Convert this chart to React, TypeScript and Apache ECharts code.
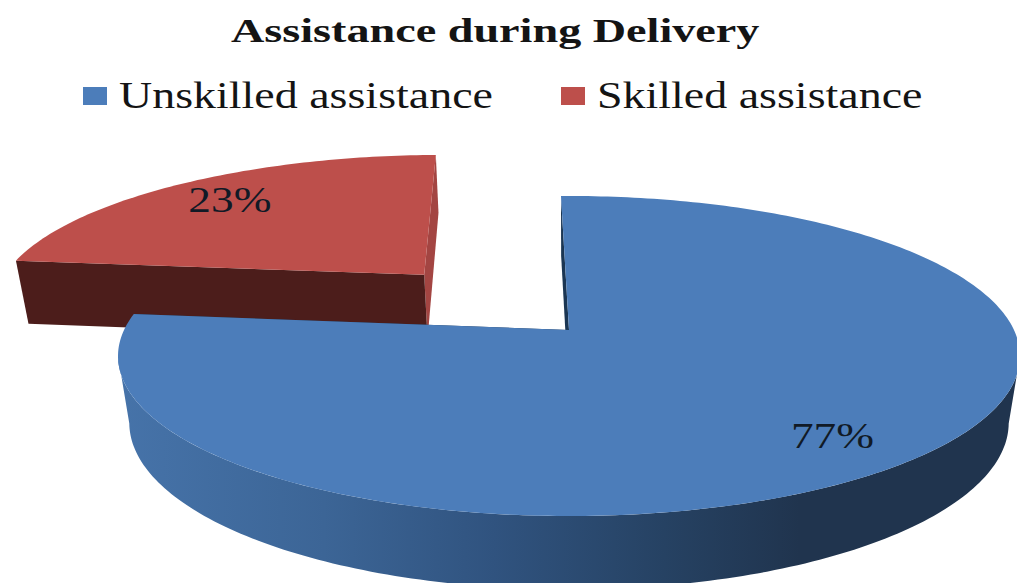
import React, { useEffect, useRef } from "react";
import * as echarts from "echarts";

const titleText = "Assistance during Delivery";
const categories = ["Unskilled assistance", "Skilled assistance"];
const shares = [77, 23];
const explode = [0, 0.51];

const topColors = ["#4c7dba", "#bd4f4b"];
const startWallColors = ["#1b3653", "#4c1d1b"];
const endWallColors = ["#1b3653", "#a34542"];
const labelNudgeX = [-3, 2];
const labelNudgeY = [5, 0];
const SERIF = '"Liberation Serif", "Times New Roman", serif';

// Perspective of the pie: a unit disc is projected with a depth term, so near parts look larger.
const CX = 569;
const CY = 330;
const RX = 445;
const RY = 155.8;
const TILT = 0.1625;
const THICK = 68;
const THICK_W = 0.025;
const FIRST_ANGLE = -1.2;
const LABEL_RADIUS = 0.8;

const rad = (d: number) => (d * Math.PI) / 180;

function project(u: number, v: number, z: number): number[] {
  const w = 1 + TILT * v + THICK_W * z;
  return [CX + (RX * u) / w, CY - (RY * v - THICK * z) / w];
}

function sliceGeometry(index: number) {
  const total = shares.reduce((a, b) => a + b, 0);
  const before = shares.slice(0, index).reduce((a, b) => a + b, 0);
  const start = FIRST_ANGLE + (before / total) * 360;
  const end = start + (shares[index] / total) * 360;
  const mid = (start + end) / 2;
  const du = explode[index] * Math.sin(rad(mid));
  const dv = explode[index] * Math.cos(rad(mid));
  const at = (deg: number, r: number, z: number) =>
    project(r * Math.sin(rad(deg)) + du, r * Math.cos(rad(deg)) + dv, z);
  return { start, end, mid, at };
}

function arcPoints(at: (d: number, r: number, z: number) => number[], a: number, b: number, z: number) {
  const out: number[][] = [];
  const steps = Math.max(2, Math.ceil(Math.abs(b - a)));
  for (let i = 0; i <= steps; i++) out.push(at(a + ((b - a) * i) / steps, 1, z));
  return out;
}

const wallFill = new echarts.graphic.LinearGradient(
  120,
  0,
  800,
  0,
  [
    { offset: 0, color: "#4673a9" },
    { offset: 0.3, color: "#3c6596" },
    { offset: 0.55, color: "#30537f" },
    { offset: 0.8, color: "#264263" },
    { offset: 1, color: "#20344e" },
  ],
  true
);

function renderSlice(index: number) {
  return (_params: unknown, api: { value: (dim: number) => number }) => {
    const value = api.value(0);
    const { start, end, mid, at } = sliceGeometry(index);
    const children: object[] = [];
    const radial = (deg: number, fill: string) => ({
      type: "polygon",
      shape: { points: [at(deg, 0, 0), at(deg, 1, 0), at(deg, 1, 1), at(deg, 0, 1)] },
      style: { fill },
    });
    children.push(radial(end, endWallColors[index]));
    children.push(radial(start, startWallColors[index]));

    // The curved outer wall is only visible between the two silhouette tangents.
    const tangent = (Math.acos(-TILT) * 180) / Math.PI;
    const a = Math.max(start, tangent);
    const b = Math.min(end, 360 - tangent);
    if (b > a) {
      children.push({
        type: "polygon",
        shape: { points: [...arcPoints(at, a, b, 0), ...arcPoints(at, b, a, 1)] },
        style: { fill: wallFill },
      });
    }

    children.push({
      type: "polygon",
      shape: { points: [at(start, 0, 0), ...arcPoints(at, start, end, 0)] },
      style: { fill: topColors[index] },
    });

    const [lx, ly] = at(mid, LABEL_RADIUS, 0);
    children.push({
      type: "text",
      x: lx + labelNudgeX[index],
      y: ly + labelNudgeY[index],
      scaleX: 1.26,
      scaleY: 1,
      style: {
        text: `${value}%`,
        x: 0,
        y: 0,
        align: "center",
        verticalAlign: "middle",
        fill: "#111a26",
        font: `36px ${SERIF}`,
      },
    });
    return { type: "group", children };
  };
}

function stretchedText(text: string, x: number, y: number, scaleX: number, font: string) {
  return {
    type: "text",
    x,
    y,
    scaleX,
    scaleY: 1,
    style: { text, x: 0, y: 0, align: "left", verticalAlign: "middle", fill: "#141414", font },
  };
}

export default function App() {
  const ref = useRef<HTMLDivElement>(null);

  useEffect(() => {
    if (!ref.current) return;
    const chart = echarts.init(ref.current, undefined, { renderer: "svg" });
    chart.setOption({
      animation: false,
      backgroundColor: "#ffffff",
      tooltip: { show: false },
      graphic: [
        stretchedText(titleText, 231, 31, 1.4, `bold 33px ${SERIF}`),
        { type: "rect", shape: { x: 83, y: 87, width: 24, height: 18 }, style: { fill: topColors[0] } },
        stretchedText(categories[0], 119, 95, 1.21, `38px ${SERIF}`),
        { type: "rect", shape: { x: 561, y: 87, width: 24, height: 18 }, style: { fill: topColors[1] } },
        stretchedText(categories[1], 597, 95, 1.21, `38px ${SERIF}`),
      ],
      series: categories.map((name, i) => ({
        type: "custom",
        name,
        coordinateSystem: "none",
        // The exploded slice sits behind the larger one.
        z: i === 0 ? 3 : 2,
        silent: true,
        data: [[shares[i]]],
        renderItem: renderSlice(i),
      })),
    });
    return () => chart.dispose();
  }, []);

  return <div ref={ref} style={{ position: "absolute", left: 0, top: 0, width: 1017, height: 583 }} />;
}
